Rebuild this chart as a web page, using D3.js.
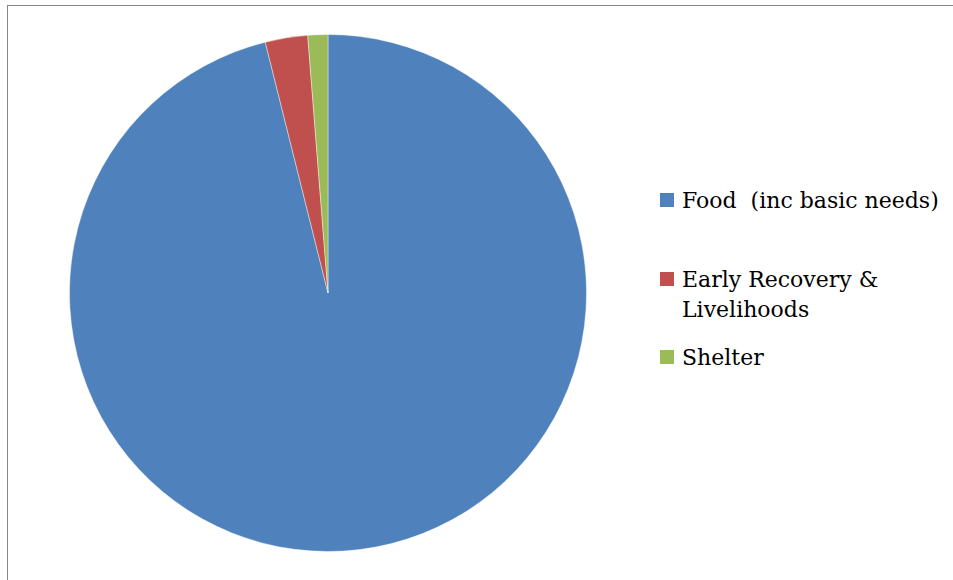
<!DOCTYPE html>
<html>
<head>
<meta charset="utf-8">
<script src="https://cdn.jsdelivr.net/npm/d3@7"></script>
<style>
  html, body { margin: 0; padding: 0; background: #fff; }
  svg { display: block; }
</style>
</head>
<body>
<svg id="chart" width="953" height="580"></svg>
<script>
const categories = ["Food  (inc basic needs)", "Early Recovery & Livelihoods", "Shelter"];
const legendLines = [["Food  (inc basic needs)"], ["Early Recovery &", "Livelihoods"], ["Shelter"]];
const values = [96.1, 2.65, 1.25];
const colors = ["#4F81BD", "#C0504D", "#9BBB59"];

const svg = d3.select("#chart");

// outer chart frame (extends past the visible area on right/bottom)
svg.append("rect")
  .attr("x", 7.5).attr("y", 5.5)
  .attr("width", 1000).attr("height", 600)
  .attr("fill", "none")
  .attr("stroke", "#878787")
  .attr("stroke-width", 1);

const cx = 328, cy = 293, r = 258.5;

const pie = d3.pie().sort(null).value(d => d)
  .startAngle(0).endAngle(2 * Math.PI);
const arc = d3.arc().innerRadius(0).outerRadius(r);

const color = d3.scaleOrdinal().domain(categories).range(colors);

const g = svg.append("g").attr("transform", `translate(${cx},${cy})`);
g.selectAll("path")
  .data(pie(values))
  .join("path")
  .attr("d", arc)
  .attr("fill", (d, i) => color(categories[i]))
  .attr("stroke", "#fff")
  .attr("stroke-width", 0.4);

// legend
const legendY = [208, 287, 365];
const lg = svg.append("g")
  .attr("font-family", "'DejaVu Serif', 'Liberation Serif', serif")
  .attr("font-size", 22)
  .attr("fill", "#000");

categories.forEach((c, i) => {
  lg.append("rect")
    .attr("x", 660).attr("y", legendY[i] - 15)
    .attr("width", 14).attr("height", 14)
    .attr("fill", color(c));
  const t = lg.append("text")
    .attr("x", 682).attr("y", legendY[i])
    .attr("xml:space", "preserve")
    .style("white-space", "pre");
  legendLines[i].forEach((line, j) => {
    t.append("tspan").attr("x", 682).attr("dy", j === 0 ? 0 : 30).text(line);
  });
});
</script>
</body>
</html>
